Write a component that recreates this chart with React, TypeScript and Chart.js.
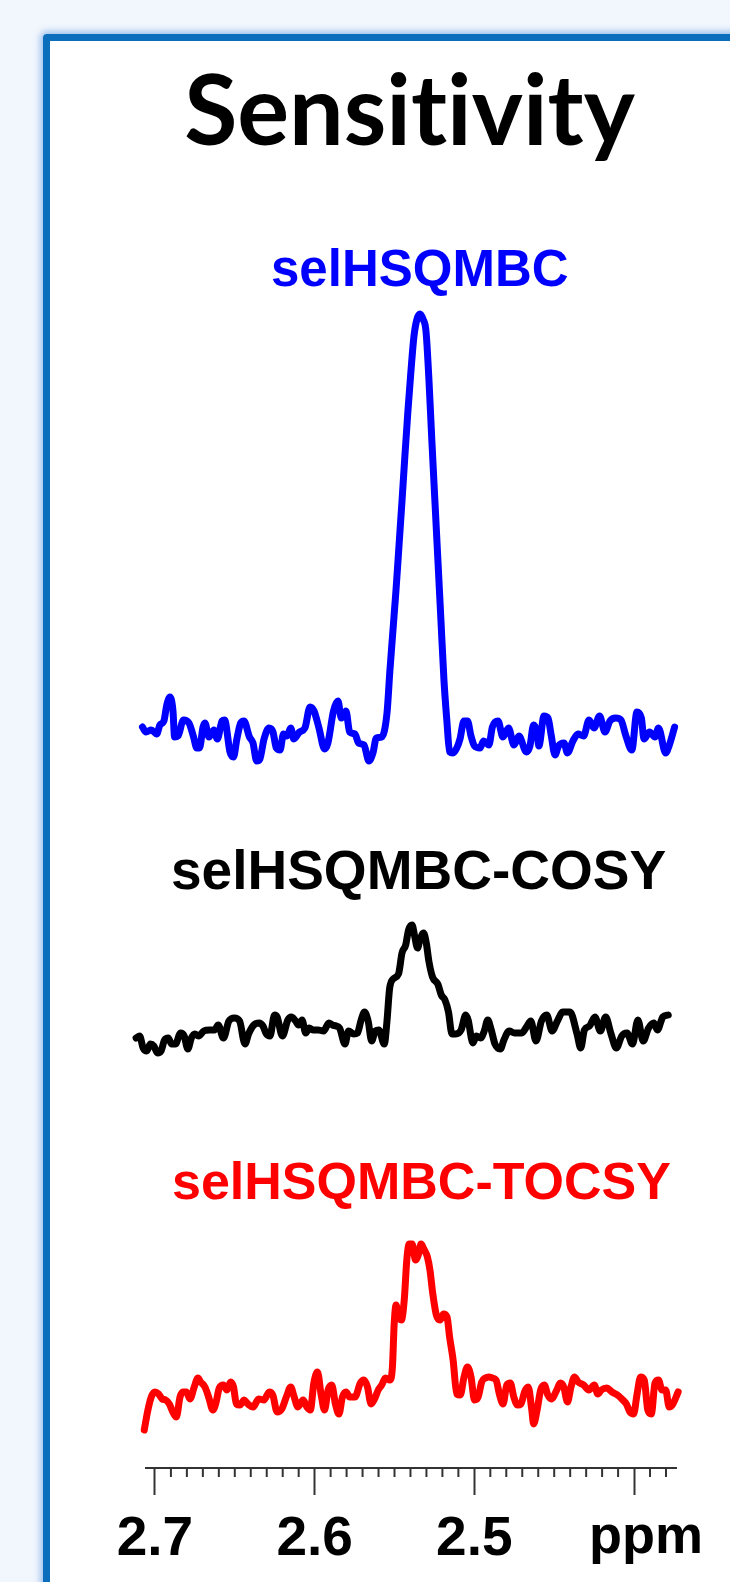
import React, { useEffect, useRef } from "react";
import { Chart, registerables } from "chart.js";

Chart.register(...registerables);

// ---------- text ----------
const titleText = "Sensitivity";
const seriesNames = ["selHSQMBC", "selHSQMBC-COSY", "selHSQMBC-TOCSY"];
const seriesColors = ["#0000ff", "#000000", "#ff0000"];

// vertical stacking offsets of the three spectra (intensity units)
const stackOffsets = [731, 433, 78];

// ---------- axis ----------
const ppmMin = 2.3733;
const ppmMax = 2.7056;
const majorTickValues = [2.7, 2.6, 2.5, 2.4];
const majorTickLabels = ["2.7", "2.6", "2.5", ""];
const unitLabel = "ppm";

// ---------- selHSQMBC (blue) ----------
const hsqmbcPpm = [
  2.7078, 2.7056, 2.7023, 2.6989, 2.6969, 2.6944, 2.6926, 2.6906, 2.6887, 2.6877,
  2.6856, 2.6821, 2.6787, 2.6758, 2.6738, 2.6721, 2.6699, 2.6687, 2.6662, 2.6631,
  2.6609, 2.658, 2.6564, 2.653, 2.6508, 2.6487, 2.6463, 2.6443, 2.6408, 2.6386,
  2.6363, 2.6343, 2.6317, 2.6286, 2.6261, 2.624, 2.6217, 2.6195, 2.6173, 2.615,
  2.613, 2.6095, 2.6061, 2.6029, 2.6004, 2.5973, 2.5938, 2.5917, 2.5882, 2.5854,
  2.5833, 2.5804, 2.5781, 2.5748, 2.5725, 2.5691, 2.566, 2.5635, 2.5614, 2.558,
  2.5547, 2.5529, 2.551, 2.5491, 2.5472, 2.5453, 2.5435, 2.5416, 2.5397, 2.5378,
  2.5359, 2.5341, 2.5322, 2.5303, 2.5284, 2.5266, 2.5247, 2.5228, 2.5209, 2.519,
  2.5172,
  2.5155, 2.5134, 2.511, 2.509, 2.5065, 2.5043, 2.5021, 2.4999, 2.4965, 2.4942,
  2.4909, 2.4887, 2.4852, 2.4821, 2.4786, 2.4752, 2.4721, 2.4674, 2.4652, 2.4629,
  2.4608, 2.4596, 2.4564, 2.4539, 2.4518, 2.4495, 2.4473, 2.4439, 2.4417, 2.4383,
  2.4351, 2.4316, 2.4282, 2.4251, 2.4216, 2.4182, 2.4151, 2.4115, 2.4082, 2.4051,
  2.4014, 2.3982, 2.3954, 2.3938, 2.3903, 2.3869, 2.3847, 2.3802, 2.3781, 2.3746,
];
const hsqmbcIntensity = [
  10, 5, 7, 3, 12, 16, 32, 40, 26, 0,
  1, 17, 14, 0, -11, -11, 10, 14, 0, 7,
  -2, 16, 17, -15, -20, -2, 14, 16, 0, -6,
  -24, -22, -2, 9, 5, -11, -13, 3, 1, 9,
  -2, 5, 9, 30, 26, 9, -12, -6, 26, 36,
  19, 26, 5, 3, -6, -8, -24, -16, -1, 0,
  24, 66, 106, 146, 191, 236, 281, 326, 366, 401,
  418, 423, 418, 406, 356, 296, 236, 176, 116, 56,
  16,
  -15, -16, -11, -2, 16, 16, 1, -9, -11, -4,
  -8, 10, 16, 0, 9, -8, 1, -15, -9, 12,
  5, -9, 21, 19, 1, -18, -9, -6, -16, -4,
  3, 1, 17, 9, 21, 5, 16, 19, 17, 1,
  -13, 25, 19, -2, 5, 0, 9, -16, -9, 10,
];

// ---------- selHSQMBC-COSY (black) ----------
const cosyPpm = [
  2.7118, 2.7096, 2.7074, 2.7051, 2.7029, 2.7007, 2.6984, 2.6962, 2.694, 2.6917,
  2.6895, 2.6872, 2.6839, 2.6817, 2.6794, 2.6772, 2.675, 2.6727, 2.6694, 2.666,
  2.6627, 2.6604, 2.6571, 2.6537, 2.6503, 2.647, 2.6436, 2.6414, 2.6381, 2.6347,
  2.6324, 2.6302, 2.628, 2.6251, 2.6235, 2.6202, 2.6168, 2.6146, 2.6119, 2.6101,
  2.6079, 2.6056, 2.6034, 2.6011, 2.5978, 2.5944, 2.5911, 2.5889, 2.5866, 2.5844,
  2.581, 2.5788, 2.5755, 2.5732, 2.5709, 2.5688, 2.5665, 2.5643, 2.562, 2.5598,
  2.5564, 2.5547, 2.5531, 2.5509, 2.5475, 2.5453, 2.543, 2.5412, 2.539, 2.5374,
  2.5356, 2.5341, 2.5318, 2.5301, 2.5285, 2.5262, 2.5229, 2.5207, 2.5184, 2.5162,
  2.514, 2.5117, 2.5083, 2.5054, 2.5039, 2.5009, 2.4987, 2.4961, 2.4938, 2.4916,
  2.4894, 2.4871, 2.4837, 2.4815, 2.4782, 2.4748, 2.4703, 2.467, 2.4647, 2.4614,
  2.458, 2.4547, 2.4513, 2.448, 2.4446, 2.4401, 2.4357, 2.4334, 2.4311, 2.4279,
  2.4245, 2.4211, 2.4178, 2.4144, 2.4111, 2.4077, 2.4044, 2.401, 2.3976, 2.3943,
  2.3909, 2.3876, 2.3854, 2.382, 2.3786,
];
const cosyIntensity = [
  -3, -1, -13, -16, -9, -11, -18, -16, -5, -3,
  -9, -9, 2, -1, -14, -3, 1, -1, 4, 5,
  5, 10, -3, 14, 17, 14, -9, 1, 10, 12,
  9, 1, -1, 20, 18, -1, 15, 18, 14, 10,
  15, 2, 7, 5, 5, 4, 12, 10, 9, 7,
  -9, 4, 1, 2, 15, 23, 14, -6, 4, 5,
  -9, 14, 46, 56, 61, 82, 90, 105, 110, 99,
  87, 95, 102, 92, 74, 58, 51, 40, 35, 23,
  1, 1, 5, 20, 15, -8, -1, -3, 4, 15,
  5, -9, -14, -5, 4, 2, 2, 9, 14, -6,
  14, 20, 4, 14, 23, 23, 1, -13, 5, 9,
  18, 4, 18, 1, -13, -1, 2, -9, 15, -6,
  7, 12, 5, 18, 20,
];

// ---------- selHSQMBC-TOCSY (red) ----------
const tocsyPpm = [
  2.7067, 2.7044, 2.7023, 2.7, 2.6977, 2.6955, 2.6933, 2.691, 2.6888, 2.6866,
  2.6843, 2.6825, 2.6803, 2.6781, 2.6754, 2.6731, 2.6714, 2.6687, 2.6664, 2.6637,
  2.662, 2.6597, 2.6571, 2.6549, 2.6526, 2.6508, 2.649, 2.6468, 2.6441, 2.6418,
  2.6385, 2.6351, 2.6318, 2.6284, 2.6262, 2.6235, 2.6206, 2.6173, 2.615, 2.6128,
  2.6105, 2.6072, 2.6049, 2.6027, 2.6005, 2.5982, 2.596, 2.5938, 2.5916, 2.5893,
  2.587, 2.5848, 2.5826, 2.5803, 2.5781, 2.5748, 2.5714, 2.5692, 2.5669, 2.5647,
  2.5625, 2.5602, 2.558, 2.5557, 2.5529, 2.5513, 2.5502, 2.549, 2.5475, 2.5457,
  2.5439, 2.5423, 2.5408, 2.539, 2.5368, 2.5349, 2.5334, 2.5316, 2.5294, 2.5278,
  2.526, 2.5238, 2.5215, 2.5193, 2.5171, 2.5155, 2.5133, 2.511, 2.5088, 2.5066,
  2.5043, 2.5021, 2.4999, 2.4976, 2.4954, 2.4931, 2.4909, 2.4887, 2.4864, 2.4842,
  2.482, 2.4797, 2.4775, 2.4753, 2.473, 2.4708, 2.4686, 2.4663, 2.4641, 2.4629,
  2.4607, 2.4585, 2.4562, 2.454, 2.4518, 2.4484, 2.4462, 2.444, 2.4417, 2.4395,
  2.4373, 2.435, 2.4316, 2.4283, 2.4249, 2.4227, 2.4205, 2.4171, 2.4138, 2.4104,
  2.407, 2.4048, 2.4026, 2.4003, 2.3981, 2.3959, 2.3936, 2.3914, 2.3892, 2.3869,
  2.3847, 2.3825, 2.3802, 2.378, 2.3757, 2.3724,
];
const tocsyIntensity = [
  -40, -20, -7, -2, -4, -9, -10, -14, -22, -27,
  -7, -2, -2, -9, 3, 12, 8, 3, -7, -20,
  -14, 2, 5, 0, 8, 3, -14, -15, -10, -14,
  -17, -9, -10, -2, -5, -22, -19, -5, 3, -7,
  -17, -10, -17, -20, 7, 18, -4, -20, 0, 5,
  -14, -24, -7, -2, -7, -7, 7, 10, 3, -14,
  -9, 0, 5, 12, 10, 23, 66, 85, 73, 70,
  90, 130, 146, 146, 130, 136, 146, 141, 133, 120,
  96, 75, 70, 76, 73, 53, 30, -4, -5, 12,
  23, 13, -10, -7, 8, 12, 13, 12, 10, -5,
  -14, 5, 7, -7, -15, -14, -2, 3, -19, -34,
  -20, 0, 5, -5, -9, 0, 7, 3, -12, 3,
  13, 8, 5, 0, 5, -4, 0, 2, -2, -5,
  -10, -14, -22, -24, -4, 13, 10, -20, -24, 7,
  10, 0, 0, -17, -14, -2,
];

const spectraPpm = [hsqmbcPpm, cosyPpm, tocsyPpm];
const spectraIntensity = [hsqmbcIntensity, cosyIntensity, tocsyIntensity];

const labelFont = '"Liberation Sans", Arial, Helvetica, sans-serif';

export default function App() {
  const canvasRef = useRef<HTMLCanvasElement | null>(null);

  useEffect(() => {
    const canvas = canvasRef.current;
    if (!canvas) return;

    const datasets = spectraPpm.map((ppm, s) => {
      const inten = spectraIntensity[s];
      const n = Math.min(ppm.length, inten.length);
      const pts = [] as { x: number; y: number }[];
      for (let i = 0; i < n; i++) pts.push({ x: ppm[i], y: stackOffsets[s] + inten[i] });
      return {
        label: seriesNames[s],
        data: pts,
        borderColor: seriesColors[s],
        backgroundColor: seriesColors[s],
        borderWidth: 7,
        pointRadius: 0,
        fill: false,
        clip: false as const,
        cubicInterpolationMode: "monotone" as const,
        borderCapStyle: "round" as const,
        borderJoinStyle: "round" as const,
      };
    });

    const axisExtras = {
      id: "axisExtras",
      afterDraw(chart: any) {
        const sx = chart.scales.x;
        const ctx = chart.ctx;
        const y0 = sx.top;
        ctx.save();
        ctx.strokeStyle = "#333333";
        ctx.lineWidth = 2;
        for (let k = Math.ceil(ppmMin * 100); k <= Math.floor(ppmMax * 100); k++) {
          if (k % 10 === 0) continue;
          const px = sx.getPixelForValue(k / 100);
          ctx.beginPath();
          ctx.moveTo(px, y0);
          ctx.lineTo(px, y0 + 9);
          ctx.stroke();
        }
        ctx.font = `bold 54px ${labelFont}`;
        ctx.fillStyle = "#000000";
        ctx.textAlign = "left";
        ctx.textBaseline = "alphabetic";
        ctx.fillText(unitLabel, sx.getPixelForValue(2.4) - 45, y0 + 85);
        ctx.restore();
      },
    };

    const chart = new Chart(canvas, {
      type: "line",
      data: { datasets: datasets as any },
      options: {
        animation: false,
        responsive: false,
        devicePixelRatio: 1,
        parsing: false as any,
        normalized: false,
        layout: { padding: { left: 146, right: 53.3, top: 268, bottom: 0 } },
        plugins: {
          legend: { display: false },
          tooltip: { enabled: false },
          title: { display: false },
        },
        scales: {
          x: {
            type: "linear",
            position: "bottom",
            reverse: true,
            min: ppmMin,
            max: ppmMax,
            afterFit: (s: any) => {
              s.height = 114;
            },
            afterBuildTicks: (s: any) => {
              s.ticks = majorTickValues.map((v) => ({ value: v }));
            },
            grid: {
              display: true,
              drawOnChartArea: false,
              drawTicks: true,
              tickLength: 27,
              tickWidth: 2,
              tickColor: "#333333",
            },
            border: { display: true, color: "#333333", width: 2 },
            ticks: {
              autoSkip: false,
              maxRotation: 0,
              minRotation: 0,
              padding: 12,
              color: "#000000",
              font: { family: labelFont, size: 55, weight: "bold" },
              callback: (v: any) => {
                const i = majorTickValues.findIndex((t) => Math.abs(t - Number(v)) < 1e-6);
                return i >= 0 ? majorTickLabels[i] : "";
              },
            },
          },
          y: { type: "linear", display: false, min: 0, max: 1200 },
        },
      },
      plugins: [axisExtras],
    });

    return () => chart.destroy();
  }, []);

  const textBase: React.CSSProperties = {
    position: "absolute",
    whiteSpace: "nowrap",
    lineHeight: 1,
    fontWeight: "bold",
    fontFamily: labelFont,
    margin: 0,
  };

  return (
    <div
      style={{
        position: "absolute",
        left: 0,
        top: 0,
        width: 730,
        height: 1582,
        overflow: "hidden",
        background: "#f2f7fd",
      }}
    >
      <div
        style={{
          position: "absolute",
          left: 43,
          top: 34,
          width: 760,
          height: 1600,
          border: "7px solid #0a6ebd",
          borderRadius: 4,
          background: "#ffffff",
          boxShadow: "0 0 6px 3px rgba(90,150,225,0.55)",
        }}
      />
      <div
        style={{
          ...textBase,
          left: 0,
          width: 819,
          textAlign: "center",
          top: 59,
          fontFamily: "Lato, 'Open Sans', sans-serif",
          fontSize: 97,
          fontVariantLigatures: "none",
          color: "#000000",
        }}
      >
        {titleText}
      </div>
      <div style={{ ...textBase, left: 271, top: 243, fontSize: 51, color: seriesColors[0] }}>
        {seriesNames[0]}
      </div>
      <div style={{ ...textBase, left: 171, top: 843, fontSize: 55, color: seriesColors[1] }}>
        {seriesNames[1]}
      </div>
      <div style={{ ...textBase, left: 172, top: 1155, fontSize: 52, color: seriesColors[2] }}>
        {seriesNames[2]}
      </div>
      <canvas
        ref={canvasRef}
        width={730}
        height={1582}
        style={{ position: "absolute", left: 0, top: 0, width: 730, height: 1582 }}
      />
    </div>
  );
}
